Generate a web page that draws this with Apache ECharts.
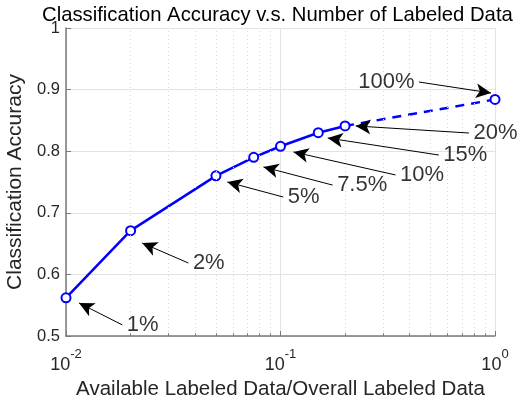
<!DOCTYPE html>
<html>
<head>
<meta charset="utf-8">
<script src="https://cdn.jsdelivr.net/npm/echarts@6/dist/echarts.min.js"></script>
<style>
  html, body { margin: 0; padding: 0; background: #fff; }
  #chart { width: 519px; height: 400px; }
</style>
</head>
<body>
<div id="chart"></div>
<script>
// fraction of labeled data used
var ratios = [0.01, 0.02, 0.05, 0.075, 0.1, 0.15, 0.2]
var accuracy = [0.562, 0.671, 0.760, 0.790, 0.808, 0.830, 0.841]
// dashed extrapolation to full data
var fullRatios = [0.2, 1]
var fullAccuracy = [0.841, 0.884]

// annotations: text, arrow tail (where text sits), arrow head
var noteText = ['1%', '2%', '5%', '7.5%', '10%', '15%', '20%', '100%']
var noteTailX = [0.0183, 0.0372, 0.103, 0.175, 0.344, 0.547, 0.756, 0.442]
var noteTailY = [0.518, 0.6185, 0.7256, 0.745, 0.7614, 0.7938, 0.8295, 0.9123]
var noteHeadX = [0.0115, 0.02265, 0.0565, 0.0833, 0.115, 0.166, 0.224, 0.958]
var noteHeadY = [0.5536, 0.651, 0.750, 0.7744, 0.7987, 0.8214, 0.841, 0.8945]
var noteSide = ['right', 'right', 'right', 'right', 'right', 'right', 'right', 'left']

var minorX = [0.02, 0.03, 0.04, 0.05, 0.06, 0.07, 0.08, 0.09, 0.2, 0.3, 0.4, 0.5, 0.6, 0.7, 0.8, 0.9]

var font = 'Liberation Sans, Arial, Helvetica, sans-serif'

var arrows = noteText.map(function (t, i) {
  return [
    { coord: [noteTailX[i], noteTailY[i]] },
    { coord: [noteHeadX[i], noteHeadY[i]] }
  ]
})

var minorGrid = minorX.map(function (v) { return { xAxis: v } })
// short minor tick marks on the bottom axis
var minorTicks = minorX.map(function (v) {
  return [{ coord: [v, 0.5] }, { coord: [v, 0.5045] }]
})

var chart = echarts.init(document.getElementById('chart'))
chart.setOption({
  animation: false,
  textStyle: { fontFamily: font },
  title: {
    text: 'Classification Accuracy v.s. Number of Labeled Data',
    left: 37,
    top: 0,
    textStyle: { fontSize: 20.3, fontWeight: 'normal', color: '#000', fontFamily: font }
  },
  grid: { left: 66, right: 24, top: 28, bottom: 64, outerBoundsMode: 'none' },
  xAxis: {
    type: 'log',
    logBase: 10,
    min: 0.01,
    max: 1,
    name: 'Available Labeled Data/Overall Labeled Data',
    nameLocation: 'middle',
    nameGap: 36,
    nameTextStyle: { fontSize: 20.5, color: '#262626' },
    axisLine: { lineStyle: { color: '#7a7a7a', width: 1.5 } },
    axisTick: { inside: true, length: 5, lineStyle: { color: '#7a7a7a' } },
    axisLabel: {
      margin: 12,
      color: '#262626',
      formatter: function (v) {
        var e = Math.round(Math.log10(v))
        return '{b|10}{s|' + e + '}'
      },
      rich: {
        b: { fontSize: 18, color: '#262626', padding: [8, 0, 0, 0] },
        s: { fontSize: 13, color: '#262626', verticalAlign: 'top', padding: [0, 0, 10, 0] }
      }
    },
    splitLine: { show: true, lineStyle: { color: '#e3e3e3', width: 1 } }
  },
  yAxis: {
    type: 'value',
    min: 0.5,
    max: 1,
    interval: 0.1,
    name: 'Classification Accuracy',
    nameLocation: 'middle',
    nameGap: 28,
    nameTextStyle: { fontSize: 21, color: '#262626' },
    axisLine: { show: true, lineStyle: { color: '#7a7a7a', width: 1.5 } },
    axisTick: { show: true, inside: true, length: 5, lineStyle: { color: '#7a7a7a' } },
    axisLabel: {
      fontSize: 16.5,
      color: '#262626',
      margin: 6,
      formatter: function (v) { return String(+v.toFixed(1)) }
    },
    splitLine: { show: true, lineStyle: { color: '#e3e3e3', width: 1 } }
  },
  series: [
    {
      name: 'minor grid',
      type: 'line',
      data: [],
      silent: true,
      markLine: {
        silent: true,
        symbol: 'none',
        label: { show: false },
        lineStyle: { color: '#dadada', type: [1, 3], width: 1 },
        data: minorGrid
      }
    },
    {
      name: 'minor ticks',
      type: 'line',
      data: [],
      silent: true,
      markLine: {
        silent: true,
        symbol: 'none',
        label: { show: false },
        lineStyle: { color: '#7a7a7a', type: 'solid', width: 1 },
        data: minorTicks
      }
    },
    {
      name: 'full',
      type: 'line',
      data: fullRatios.map(function (x, i) { return [x, fullAccuracy[i]] }),
      lineStyle: { color: '#0000ff', width: 2.5, type: [9, 7] },
      symbol: function (v, p) { return p.dataIndex === 1 ? 'emptyCircle' : 'none' },
      symbolSize: 9,
      itemStyle: { color: '#0000ff', borderWidth: 2.5 },
      z: 3
    },
    {
      name: 'accuracy',
      type: 'line',
      data: ratios.map(function (x, i) { return [x, accuracy[i]] }),
      lineStyle: { color: '#0000ff', width: 2.5 },
      symbol: 'emptyCircle',
      symbolSize: 9,
      itemStyle: { color: '#0000ff', borderWidth: 2.5 },
      z: 4
    },
    {
      name: 'arrows',
      type: 'line',
      data: [],
      markLine: {
        silent: true,
        symbol: ['none', 'arrow'],
        symbolSize: [11, 15],
        label: { show: false },
        lineStyle: { color: '#000', type: 'solid', width: 1 },
        data: arrows
      },
      z: 5
    },
    {
      name: 'notes',
      type: 'scatter',
      symbolSize: 1,
      itemStyle: { color: 'rgba(0,0,0,0)' },
      data: noteText.map(function (t, i) {
        return {
          value: [noteTailX[i], noteTailY[i], t],
          label: { position: noteSide[i] }
        }
      }),
      label: {
        show: true,
        fontSize: 22,
        color: '#000',
        fontFamily: font,
        distance: 4,
        formatter: function (p) { return p.value[2] }
      },
      z: 6
    }
  ]
})
</script>
</body>
</html>
